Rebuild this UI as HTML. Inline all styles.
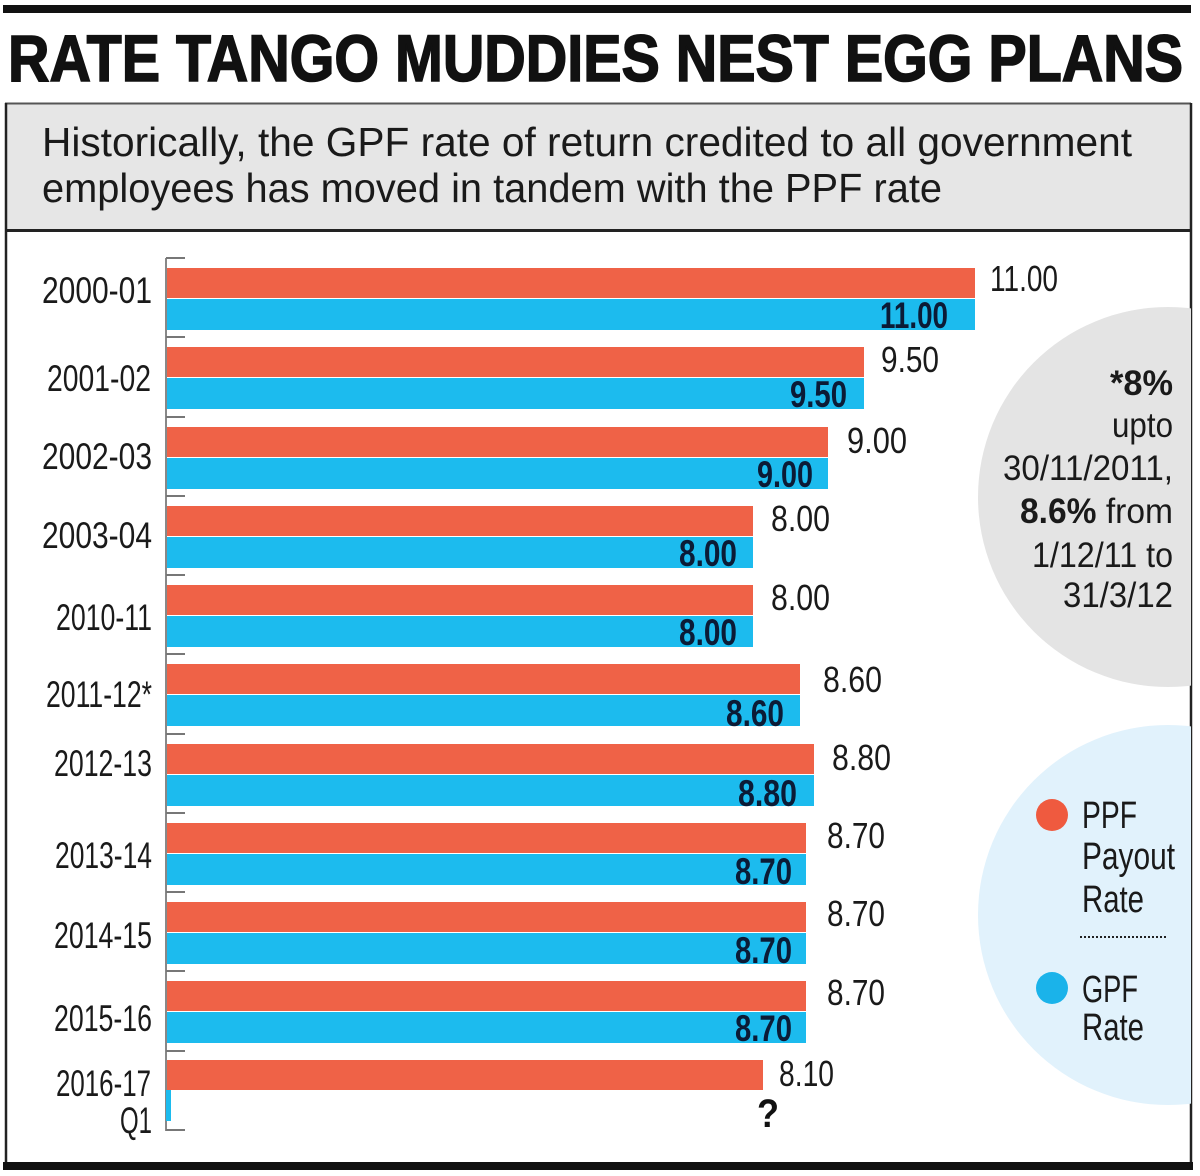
<!DOCTYPE html>
<html>
<head>
<meta charset="utf-8">
<style>
  html,body{margin:0;padding:0;background:#fff;}
  svg{display:block;}
  .cat{font-family:"Liberation Sans",sans-serif;font-size:37px;fill:#1a1a1a;}
  .ppf{font-family:"Liberation Sans",sans-serif;font-size:36px;fill:#1a1a1a;}
  .gpf{font-family:"Liberation Sans",sans-serif;font-size:37px;font-weight:bold;fill:#0b1b36;}
  .note{font-family:"Liberation Sans",sans-serif;font-size:35px;fill:#1a1a1a;}
  .leg{font-family:"Liberation Sans",sans-serif;font-size:38px;fill:#1a1a1a;}
</style>
</head>
<body>
<svg width="1200" height="1176" viewBox="0 0 1200 1176" xmlns="http://www.w3.org/2000/svg">
  <defs>
    <clipPath id="panel"><rect x="6" y="232" width="1185" height="930"/></clipPath>
  </defs>
  <!-- top bar -->
  <rect x="3" y="5" width="1188" height="8" fill="#111"/>
  <!-- title -->
  <text x="8" y="81" font-family="Liberation Sans, sans-serif" font-weight="bold" font-size="66" fill="#111" stroke="#111" stroke-width="1.6" textLength="1175" lengthAdjust="spacingAndGlyphs">RATE TANGO MUDDIES NEST EGG PLANS</text>

  <!-- subtitle box -->
  <rect x="5" y="103" width="1186" height="128" fill="#e6e6e6"/>
  <line x1="5" y1="103.5" x2="1191" y2="103.5" stroke="#555" stroke-width="2"/>
  <text x="42" y="156" font-family="Liberation Sans, sans-serif" font-size="41" fill="#1a1a1a" textLength="1090" lengthAdjust="spacingAndGlyphs">Historically, the GPF rate of return credited to all government</text>
  <text x="42" y="202" font-family="Liberation Sans, sans-serif" font-size="41" fill="#1a1a1a" textLength="900" lengthAdjust="spacingAndGlyphs">employees has moved in tandem with the PPF rate</text>
  <line x1="5" y1="230.5" x2="1191" y2="230.5" stroke="#222" stroke-width="3"/>

  <!-- frame borders -->
  <line x1="6" y1="103" x2="6" y2="1165" stroke="#222" stroke-width="2.5"/>
  <line x1="1191" y1="103" x2="1191" y2="1165" stroke="#222" stroke-width="2.5"/>
  <rect x="3" y="1162" width="1190" height="8" fill="#111"/>

  <!-- background circles -->
  <g clip-path="url(#panel)">
    <circle cx="1168" cy="497" r="190" fill="#e4e4e4"/>
    <circle cx="1168" cy="915" r="190" fill="#e1f2fc"/>
  </g>

  <!-- axis -->
  <line x1="166" y1="258" x2="166" y2="1131" stroke="#888" stroke-width="2"/>
  <g stroke="#777" stroke-width="2">
    <line x1="166" y1="258" x2="185" y2="258"/>
    <line x1="166" y1="337" x2="185" y2="337"/>
    <line x1="166" y1="417" x2="185" y2="417"/>
    <line x1="166" y1="496" x2="185" y2="496"/>
    <line x1="166" y1="575" x2="185" y2="575"/>
    <line x1="166" y1="654" x2="185" y2="654"/>
    <line x1="166" y1="734" x2="185" y2="734"/>
    <line x1="166" y1="813" x2="185" y2="813"/>
    <line x1="166" y1="892" x2="185" y2="892"/>
    <line x1="166" y1="971" x2="185" y2="971"/>
    <line x1="166" y1="1051" x2="185" y2="1051"/>
    <line x1="166" y1="1130" x2="185" y2="1130"/>
  </g>

  <!-- bars -->
  <g fill="#ef6247">
    <rect x="167" y="268" width="808" height="30"/>
    <rect x="167" y="347" width="697" height="30"/>
    <rect x="167" y="427" width="661" height="30"/>
    <rect x="167" y="506" width="586" height="30"/>
    <rect x="167" y="585" width="586" height="30"/>
    <rect x="167" y="664" width="633" height="30"/>
    <rect x="167" y="744" width="647" height="30"/>
    <rect x="167" y="823" width="639" height="30"/>
    <rect x="167" y="902" width="639" height="30"/>
    <rect x="167" y="981" width="639" height="30"/>
    <rect x="167" y="1060" width="596" height="30"/>
  </g>
  <g fill="#1cbbee">
    <rect x="167" y="299" width="808" height="31"/>
    <rect x="167" y="378" width="697" height="31"/>
    <rect x="167" y="458" width="661" height="31"/>
    <rect x="167" y="537" width="586" height="31"/>
    <rect x="167" y="616" width="586" height="31"/>
    <rect x="167" y="695" width="633" height="31"/>
    <rect x="167" y="775" width="647" height="31"/>
    <rect x="167" y="854" width="639" height="31"/>
    <rect x="167" y="933" width="639" height="31"/>
    <rect x="167" y="1012" width="639" height="31"/>
    <rect x="166" y="1090" width="5" height="31"/>
  </g>

  <!-- category labels -->
  <text class="cat" x="42" y="303" textLength="110" lengthAdjust="spacingAndGlyphs">2000-01</text>
  <text class="cat" x="47" y="391" textLength="104" lengthAdjust="spacingAndGlyphs">2001-02</text>
  <text class="cat" x="42" y="469" textLength="110" lengthAdjust="spacingAndGlyphs">2002-03</text>
  <text class="cat" x="42" y="548" textLength="110" lengthAdjust="spacingAndGlyphs">2003-04</text>
  <text class="cat" x="56" y="630" textLength="96" lengthAdjust="spacingAndGlyphs">2010-11</text>
  <text class="cat" x="46" y="707" textLength="106" lengthAdjust="spacingAndGlyphs">2011-12*</text>
  <text class="cat" x="54" y="776" textLength="98" lengthAdjust="spacingAndGlyphs">2012-13</text>
  <text class="cat" x="55" y="868" textLength="97" lengthAdjust="spacingAndGlyphs">2013-14</text>
  <text class="cat" x="54" y="948" textLength="98" lengthAdjust="spacingAndGlyphs">2014-15</text>
  <text class="cat" x="54" y="1031" textLength="98" lengthAdjust="spacingAndGlyphs">2015-16</text>
  <text class="cat" x="56" y="1096" textLength="95" lengthAdjust="spacingAndGlyphs">2016-17</text>
  <text class="cat" x="120" y="1133" textLength="32" lengthAdjust="spacingAndGlyphs">Q1</text>

  <!-- PPF value labels -->
  <text class="ppf" x="990" y="291" textLength="68" lengthAdjust="spacingAndGlyphs">11.00</text>
  <text class="ppf" x="881" y="372" textLength="58" lengthAdjust="spacingAndGlyphs">9.50</text>
  <text class="ppf" x="847" y="453" textLength="60" lengthAdjust="spacingAndGlyphs">9.00</text>
  <text class="ppf" x="771" y="531" textLength="59" lengthAdjust="spacingAndGlyphs">8.00</text>
  <text class="ppf" x="771" y="610" textLength="59" lengthAdjust="spacingAndGlyphs">8.00</text>
  <text class="ppf" x="823" y="692" textLength="59" lengthAdjust="spacingAndGlyphs">8.60</text>
  <text class="ppf" x="832" y="770" textLength="59" lengthAdjust="spacingAndGlyphs">8.80</text>
  <text class="ppf" x="827" y="848" textLength="58" lengthAdjust="spacingAndGlyphs">8.70</text>
  <text class="ppf" x="827" y="926" textLength="58" lengthAdjust="spacingAndGlyphs">8.70</text>
  <text class="ppf" x="827" y="1005" textLength="58" lengthAdjust="spacingAndGlyphs">8.70</text>
  <text class="ppf" x="779" y="1086" textLength="55" lengthAdjust="spacingAndGlyphs">8.10</text>

  <!-- GPF value labels -->
  <text class="gpf" x="880" y="328" textLength="68" lengthAdjust="spacingAndGlyphs">11.00</text>
  <text class="gpf" x="790" y="407" textLength="57" lengthAdjust="spacingAndGlyphs">9.50</text>
  <text class="gpf" x="757" y="487" textLength="56" lengthAdjust="spacingAndGlyphs">9.00</text>
  <text class="gpf" x="679" y="566" textLength="58" lengthAdjust="spacingAndGlyphs">8.00</text>
  <text class="gpf" x="679" y="645" textLength="58" lengthAdjust="spacingAndGlyphs">8.00</text>
  <text class="gpf" x="726" y="726" textLength="58" lengthAdjust="spacingAndGlyphs">8.60</text>
  <text class="gpf" x="738" y="806" textLength="59" lengthAdjust="spacingAndGlyphs">8.80</text>
  <text class="gpf" x="735" y="884" textLength="57" lengthAdjust="spacingAndGlyphs">8.70</text>
  <text class="gpf" x="735" y="963" textLength="57" lengthAdjust="spacingAndGlyphs">8.70</text>
  <text class="gpf" x="735" y="1041" textLength="57" lengthAdjust="spacingAndGlyphs">8.70</text>
  <text x="757" y="1127" font-family="Liberation Sans, sans-serif" font-weight="bold" font-size="40" fill="#111" textLength="22" lengthAdjust="spacingAndGlyphs">?</text>

  <!-- note in gray circle -->
  <text class="note" x="1110" y="395" font-weight="bold" textLength="63" lengthAdjust="spacingAndGlyphs">*8%</text>
  <text class="note" x="1112" y="437" textLength="61" lengthAdjust="spacingAndGlyphs">upto</text>
  <text class="note" x="1003" y="480" textLength="170" lengthAdjust="spacingAndGlyphs">30/11/2011,</text>
  <text class="note" x="1020" y="523" textLength="153" lengthAdjust="spacingAndGlyphs"><tspan font-weight="bold">8.6%</tspan> from</text>
  <text class="note" x="1032" y="567" textLength="141" lengthAdjust="spacingAndGlyphs">1/12/11 to</text>
  <text class="note" x="1063" y="607" textLength="110" lengthAdjust="spacingAndGlyphs">31/3/12</text>

  <!-- legend -->
  <circle cx="1052" cy="815" r="16" fill="#ef5a3f"/>
  <text class="leg" x="1082" y="828" textLength="55" lengthAdjust="spacingAndGlyphs">PPF</text>
  <text class="leg" x="1082" y="869" textLength="93" lengthAdjust="spacingAndGlyphs">Payout</text>
  <text class="leg" x="1082" y="912" textLength="62" lengthAdjust="spacingAndGlyphs">Rate</text>
  <line x1="1080" y1="937" x2="1167" y2="937" stroke="#222" stroke-width="2" stroke-dasharray="2,2"/>
  <circle cx="1052" cy="988" r="16" fill="#1ab3ea"/>
  <text class="leg" x="1082" y="1002" textLength="56" lengthAdjust="spacingAndGlyphs">GPF</text>
  <text class="leg" x="1082" y="1040" textLength="62" lengthAdjust="spacingAndGlyphs">Rate</text>
</svg>
</body>
</html>
